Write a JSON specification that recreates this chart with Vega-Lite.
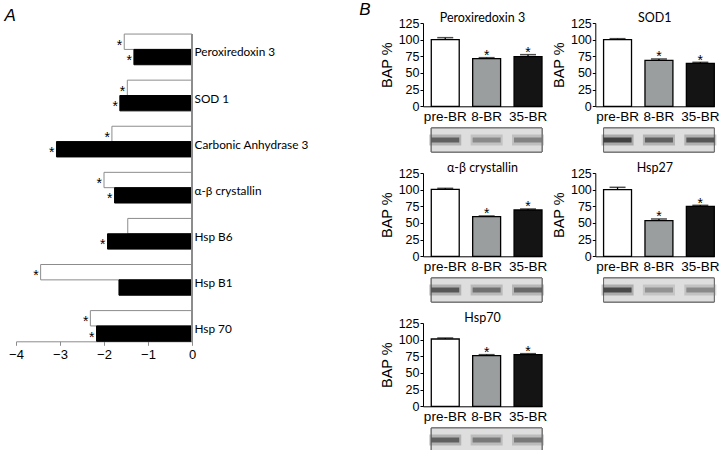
{
  "$schema": "https://vega.github.io/schema/vega-lite/v6.json",
  "padding": {"left": 4, "top": 0, "right": 0, "bottom": 0},
  "background": "white",
  "bounds": "flush",
  "spacing": 231,
  "config": {
    "view": {"stroke": null},
    "font": "Liberation Sans",
    "text": {"font": "Liberation Sans"},
    "axis": {"labelColor": "black", "titleColor": "black", "grid": false, "labelFont": "Liberation Sans", "titleFont": "Liberation Sans", "labelOverlap": false}
  },
  "datasets": {
    "fold": [
      {"protein": "Peroxiredoxin 3", "series": "8-BR", "value": -1.54, "sig": true},
      {"protein": "Peroxiredoxin 3", "series": "35-BR", "value": -1.32, "sig": true},
      {"protein": "SOD 1", "series": "8-BR", "value": -1.47, "sig": true},
      {"protein": "SOD 1", "series": "35-BR", "value": -1.64, "sig": true},
      {"protein": "Carbonic Anhydrase 3", "series": "8-BR", "value": -1.82, "sig": true},
      {"protein": "Carbonic Anhydrase 3", "series": "35-BR", "value": -3.08, "sig": true},
      {"protein": "α-β crystallin", "series": "8-BR", "value": -2.0, "sig": true},
      {"protein": "α-β crystallin", "series": "35-BR", "value": -1.76, "sig": true},
      {"protein": "Hsp B6", "series": "8-BR", "value": -1.46, "sig": false},
      {"protein": "Hsp B6", "series": "35-BR", "value": -1.92, "sig": true},
      {"protein": "Hsp B1", "series": "8-BR", "value": -3.44, "sig": true},
      {"protein": "Hsp B1", "series": "35-BR", "value": -1.66, "sig": false},
      {"protein": "Hsp 70", "series": "8-BR", "value": -2.31, "sig": true},
      {"protein": "Hsp 70", "series": "35-BR", "value": -2.17, "sig": true}
    ],
    "bap": [
      {"protein": "Peroxiredoxin 3", "group": "pre-BR", "value": 100, "hi": 103, "sig": false},
      {"protein": "Peroxiredoxin 3", "group": "8-BR", "value": 71.5, "hi": 73, "sig": true},
      {"protein": "Peroxiredoxin 3", "group": "35-BR", "value": 74.5, "hi": 77.5, "sig": true},
      {"protein": "SOD1", "group": "pre-BR", "value": 100, "hi": 101.5, "sig": false},
      {"protein": "SOD1", "group": "8-BR", "value": 69, "hi": 71, "sig": true},
      {"protein": "SOD1", "group": "35-BR", "value": 64.5, "hi": 66, "sig": true},
      {"protein": "α-β crystallin", "group": "pre-BR", "value": 100.5, "hi": 102, "sig": false},
      {"protein": "α-β crystallin", "group": "8-BR", "value": 59.5, "hi": 60.5, "sig": true},
      {"protein": "α-β crystallin", "group": "35-BR", "value": 69.5, "hi": 71, "sig": true},
      {"protein": "Hsp27", "group": "pre-BR", "value": 100, "hi": 103.5, "sig": false},
      {"protein": "Hsp27", "group": "8-BR", "value": 53.5, "hi": 56, "sig": true},
      {"protein": "Hsp27", "group": "35-BR", "value": 75, "hi": 76.5, "sig": true},
      {"protein": "Hsp70", "group": "pre-BR", "value": 101, "hi": 102.5, "sig": false},
      {"protein": "Hsp70", "group": "8-BR", "value": 76, "hi": 77.5, "sig": true},
      {"protein": "Hsp70", "group": "35-BR", "value": 77.5, "hi": 79, "sig": true}
    ],
    "blot": [
      {"protein": "Peroxiredoxin 3", "group": "pre-BR", "intensity": 0.7},
      {"protein": "Peroxiredoxin 3", "group": "8-BR", "intensity": 0.45},
      {"protein": "Peroxiredoxin 3", "group": "35-BR", "intensity": 0.5},
      {"protein": "SOD1", "group": "pre-BR", "intensity": 0.9},
      {"protein": "SOD1", "group": "8-BR", "intensity": 0.7},
      {"protein": "SOD1", "group": "35-BR", "intensity": 0.75},
      {"protein": "α-β crystallin", "group": "pre-BR", "intensity": 0.75},
      {"protein": "α-β crystallin", "group": "8-BR", "intensity": 0.6},
      {"protein": "α-β crystallin", "group": "35-BR", "intensity": 0.65},
      {"protein": "Hsp27", "group": "pre-BR", "intensity": 0.85},
      {"protein": "Hsp27", "group": "8-BR", "intensity": 0.4},
      {"protein": "Hsp27", "group": "35-BR", "intensity": 0.45},
      {"protein": "Hsp70", "group": "pre-BR", "intensity": 0.7},
      {"protein": "Hsp70", "group": "8-BR", "intensity": 0.55},
      {"protein": "Hsp70", "group": "35-BR", "intensity": 0.55}
    ]
  },
  "hconcat": [
    {
      "title": {"text": "A", "anchor": "start", "fontStyle": "italic", "fontSize": 17, "fontWeight": "normal", "font": "Liberation Sans", "offset": -2, "dx": -4},
      "width": 176,
      "height": 318.3,
      "data": {"name": "fold"},
      "encoding": {
        "y": {"field": "protein", "type": "nominal", "sort": null,
          "scale": {"paddingInner": 0.334, "paddingOuter": 0.12, "align": 1},
          "axis": {"orient": "right", "title": null, "ticks": false, "domain": false, "labelFont": "Lato", "labelFontSize": 11.8, "labelPadding": 2, "labelOffset": 3}},
        "yOffset": {"field": "series", "type": "nominal", "sort": ["8-BR", "35-BR"], "scale": {"paddingInner": 0, "paddingOuter": 0}},
        "x": {"field": "value", "type": "quantitative", "scale": {"domain": [-4, 0], "nice": false},
          "axis": {"values": [-4, -3, -2, -1, 0], "format": "d", "title": null, "domainColor": "#8c8c8c", "tickColor": "#8c8c8c", "tickSize": 4, "labelFontSize": 13, "labelPadding": 3, "labelFlush": false}}
      },
      "layer": [
        {
          "mark": {"type": "bar", "strokeWidth": 1},
          "encoding": {
            "color": {"field": "series", "type": "nominal", "scale": {"domain": ["8-BR", "35-BR"], "range": ["white", "black"]}, "legend": null},
            "stroke": {"field": "series", "type": "nominal", "scale": {"domain": ["8-BR", "35-BR"], "range": ["#8c8c8c", "black"]}, "legend": null}
          }
        },
        {
          "transform": [{"filter": "datum.sig"}],
          "mark": {"type": "text", "text": "*", "align": "right", "baseline": "alphabetic", "dx": -2, "dy": 8, "fontSize": 14, "color": "black"}
        },
        {
          "mark": {"type": "rule", "color": "#8c8c8c", "strokeWidth": 1},
          "encoding": {
            "x": {"datum": 0},
            "y": {"datum": "Peroxiredoxin 3", "type": "nominal", "bandPosition": 0},
            "y2": {"datum": "Hsp 70", "bandPosition": 1},
            "yOffset": {"value": 0}
          }
        }
      ]
    },
    {
      "title": {"text": "B", "anchor": "start", "fontStyle": "italic", "fontSize": 17, "fontWeight": "normal", "font": "Liberation Sans", "offset": -7, "dx": -20},
      "bounds": "flush",
      "columns": 2,
      "spacing": {"row": 21, "column": 53.3},
      "concat": [
        {
          "width": 119, "height": 83.3,
          "title": {"text": "Peroxiredoxin 3", "font": "Lato", "fontSize": 12.5, "fontWeight": "normal", "offset": -7},
          "data": {"name": "bap"},
          "transform": [{"filter": "datum.protein === 'Peroxiredoxin 3'"}],
          "encoding": {
            "x": {"field": "group", "type": "nominal", "sort": ["pre-BR", "8-BR", "35-BR"],
              "scale": {"paddingInner": 0.325, "paddingOuter": 0.1, "align": 1},
              "axis": {"title": null, "labelAngle": 0, "ticks": false, "domainColor": "black", "labelFontSize": 13.5, "labelPadding": 3}},
            "y": {"field": "value", "type": "quantitative", "scale": {"domain": [0, 125], "nice": false},
              "axis": {"title": "BAP %", "values": [0, 25, 50, 75, 100, 125], "format": "d", "tickCount": 10, "labelOverlap": false, "domainColor": "black", "tickColor": "black", "tickSize": 3, "labelFontSize": 12.5, "labelPadding": 1, "titleFontSize": 14.5, "titleFontWeight": "normal", "titlePadding": 4}}
          },
          "layer": [
            {"mark": {"type": "bar", "stroke": "black", "strokeWidth": 1.3},
             "encoding": {
               "color": {"field": "group", "type": "nominal", "scale": {"domain": ["pre-BR", "8-BR", "35-BR"], "range": ["white", "#9a9e9e", "#141414"]}, "legend": null}}},
            {"mark": {"type": "rule", "color": "black", "strokeWidth": 1.3},
             "encoding": {"y2": {"field": "hi"}}},
            {"mark": {"type": "tick", "orient": "horizontal", "color": "black", "thickness": 1.5, "size": 16},
             "encoding": {"y": {"field": "hi", "type": "quantitative"}}},
            {"transform": [{"filter": "datum.sig"}],
             "mark": {"type": "text", "text": "*", "fontSize": 14, "baseline": "alphabetic", "dy": 2.5, "color": "black"},
             "encoding": {"y": {"field": "hi", "type": "quantitative"}}}
          ]
        },
        {
          "width": 119, "height": 83.3,
          "title": {"text": "SOD1", "font": "Lato", "fontSize": 12.5, "fontWeight": "normal", "offset": -7},
          "data": {"name": "bap"},
          "transform": [{"filter": "datum.protein === 'SOD1'"}],
          "encoding": {
            "x": {"field": "group", "type": "nominal", "sort": ["pre-BR", "8-BR", "35-BR"],
              "scale": {"paddingInner": 0.325, "paddingOuter": 0.1, "align": 1},
              "axis": {"title": null, "labelAngle": 0, "ticks": false, "domainColor": "black", "labelFontSize": 13.5, "labelPadding": 3}},
            "y": {"field": "value", "type": "quantitative", "scale": {"domain": [0, 125], "nice": false},
              "axis": {"title": "BAP %", "values": [0, 25, 50, 75, 100, 125], "format": "d", "tickCount": 10, "labelOverlap": false, "domainColor": "black", "tickColor": "black", "tickSize": 3, "labelFontSize": 12.5, "labelPadding": 1, "titleFontSize": 14.5, "titleFontWeight": "normal", "titlePadding": 4}}
          },
          "layer": [
            {"mark": {"type": "bar", "stroke": "black", "strokeWidth": 1.3},
             "encoding": {
               "color": {"field": "group", "type": "nominal", "scale": {"domain": ["pre-BR", "8-BR", "35-BR"], "range": ["white", "#9a9e9e", "#141414"]}, "legend": null}}},
            {"mark": {"type": "rule", "color": "black", "strokeWidth": 1.3},
             "encoding": {"y2": {"field": "hi"}}},
            {"mark": {"type": "tick", "orient": "horizontal", "color": "black", "thickness": 1.5, "size": 16},
             "encoding": {"y": {"field": "hi", "type": "quantitative"}}},
            {"transform": [{"filter": "datum.sig"}],
             "mark": {"type": "text", "text": "*", "fontSize": 14, "baseline": "alphabetic", "dy": 2.5, "color": "black"},
             "encoding": {"y": {"field": "hi", "type": "quantitative"}}}
          ]
        },
        {
          "width": 119, "height": 24,
          "data": {"name": "blot"},
          "transform": [{"filter": "datum.protein === 'Peroxiredoxin 3'"}],
          "encoding": {
            "x": {"field": "group", "type": "nominal", "sort": ["pre-BR", "8-BR", "35-BR"],
              "scale": {"paddingInner": 0.325, "paddingOuter": 0.1, "align": 1}, "axis": null},
            "color": {"field": "intensity", "type": "quantitative", "scale": {"domain": [0, 1], "range": ["#dedede", "#1e1e1e"]}, "legend": null}
          },
          "layer": [
            {"mark": {"type": "rect", "fill": "#dedede", "stroke": "#6a6a6a", "strokeWidth": 1},
             "encoding": {"x": {"datum": "pre-BR", "type": "nominal", "bandPosition": 0}, "x2": {"datum": "35-BR", "bandPosition": 1}, "color": {"value": "#dedede"}}},
            {"mark": {"type": "tick", "orient": "horizontal", "thickness": 11, "size": 32, "opacity": 0.3}},
            {"mark": {"type": "tick", "orient": "horizontal", "thickness": 5, "size": 28, "opacity": 0.85}}
          ]
        },
        {
          "width": 119, "height": 24,
          "data": {"name": "blot"},
          "transform": [{"filter": "datum.protein === 'SOD1'"}],
          "encoding": {
            "x": {"field": "group", "type": "nominal", "sort": ["pre-BR", "8-BR", "35-BR"],
              "scale": {"paddingInner": 0.325, "paddingOuter": 0.1, "align": 1}, "axis": null},
            "color": {"field": "intensity", "type": "quantitative", "scale": {"domain": [0, 1], "range": ["#dedede", "#1e1e1e"]}, "legend": null}
          },
          "layer": [
            {"mark": {"type": "rect", "fill": "#dedede", "stroke": "#6a6a6a", "strokeWidth": 1},
             "encoding": {"x": {"datum": "pre-BR", "type": "nominal", "bandPosition": 0}, "x2": {"datum": "35-BR", "bandPosition": 1}, "color": {"value": "#dedede"}}},
            {"mark": {"type": "tick", "orient": "horizontal", "thickness": 11, "size": 32, "opacity": 0.3}},
            {"mark": {"type": "tick", "orient": "horizontal", "thickness": 5, "size": 28, "opacity": 0.85}}
          ]
        },
        {
          "width": 119, "height": 83.3,
          "title": {"text": "α-β crystallin", "font": "Lato", "fontSize": 12.5, "fontWeight": "normal", "offset": -7},
          "data": {"name": "bap"},
          "transform": [{"filter": "datum.protein === 'α-β crystallin'"}],
          "encoding": {
            "x": {"field": "group", "type": "nominal", "sort": ["pre-BR", "8-BR", "35-BR"],
              "scale": {"paddingInner": 0.325, "paddingOuter": 0.1, "align": 1},
              "axis": {"title": null, "labelAngle": 0, "ticks": false, "domainColor": "black", "labelFontSize": 13.5, "labelPadding": 3}},
            "y": {"field": "value", "type": "quantitative", "scale": {"domain": [0, 125], "nice": false},
              "axis": {"title": "BAP %", "values": [0, 25, 50, 75, 100, 125], "format": "d", "tickCount": 10, "labelOverlap": false, "domainColor": "black", "tickColor": "black", "tickSize": 3, "labelFontSize": 12.5, "labelPadding": 1, "titleFontSize": 14.5, "titleFontWeight": "normal", "titlePadding": 4}}
          },
          "layer": [
            {"mark": {"type": "bar", "stroke": "black", "strokeWidth": 1.3},
             "encoding": {
               "color": {"field": "group", "type": "nominal", "scale": {"domain": ["pre-BR", "8-BR", "35-BR"], "range": ["white", "#9a9e9e", "#141414"]}, "legend": null}}},
            {"mark": {"type": "rule", "color": "black", "strokeWidth": 1.3},
             "encoding": {"y2": {"field": "hi"}}},
            {"mark": {"type": "tick", "orient": "horizontal", "color": "black", "thickness": 1.5, "size": 16},
             "encoding": {"y": {"field": "hi", "type": "quantitative"}}},
            {"transform": [{"filter": "datum.sig"}],
             "mark": {"type": "text", "text": "*", "fontSize": 14, "baseline": "alphabetic", "dy": 2.5, "color": "black"},
             "encoding": {"y": {"field": "hi", "type": "quantitative"}}}
          ]
        },
        {
          "width": 119, "height": 83.3,
          "title": {"text": "Hsp27", "font": "Lato", "fontSize": 12.5, "fontWeight": "normal", "offset": -7},
          "data": {"name": "bap"},
          "transform": [{"filter": "datum.protein === 'Hsp27'"}],
          "encoding": {
            "x": {"field": "group", "type": "nominal", "sort": ["pre-BR", "8-BR", "35-BR"],
              "scale": {"paddingInner": 0.325, "paddingOuter": 0.1, "align": 1},
              "axis": {"title": null, "labelAngle": 0, "ticks": false, "domainColor": "black", "labelFontSize": 13.5, "labelPadding": 3}},
            "y": {"field": "value", "type": "quantitative", "scale": {"domain": [0, 125], "nice": false},
              "axis": {"title": "BAP %", "values": [0, 25, 50, 75, 100, 125], "format": "d", "tickCount": 10, "labelOverlap": false, "domainColor": "black", "tickColor": "black", "tickSize": 3, "labelFontSize": 12.5, "labelPadding": 1, "titleFontSize": 14.5, "titleFontWeight": "normal", "titlePadding": 4}}
          },
          "layer": [
            {"mark": {"type": "bar", "stroke": "black", "strokeWidth": 1.3},
             "encoding": {
               "color": {"field": "group", "type": "nominal", "scale": {"domain": ["pre-BR", "8-BR", "35-BR"], "range": ["white", "#9a9e9e", "#141414"]}, "legend": null}}},
            {"mark": {"type": "rule", "color": "black", "strokeWidth": 1.3},
             "encoding": {"y2": {"field": "hi"}}},
            {"mark": {"type": "tick", "orient": "horizontal", "color": "black", "thickness": 1.5, "size": 16},
             "encoding": {"y": {"field": "hi", "type": "quantitative"}}},
            {"transform": [{"filter": "datum.sig"}],
             "mark": {"type": "text", "text": "*", "fontSize": 14, "baseline": "alphabetic", "dy": 2.5, "color": "black"},
             "encoding": {"y": {"field": "hi", "type": "quantitative"}}}
          ]
        },
        {
          "width": 119, "height": 24,
          "data": {"name": "blot"},
          "transform": [{"filter": "datum.protein === 'α-β crystallin'"}],
          "encoding": {
            "x": {"field": "group", "type": "nominal", "sort": ["pre-BR", "8-BR", "35-BR"],
              "scale": {"paddingInner": 0.325, "paddingOuter": 0.1, "align": 1}, "axis": null},
            "color": {"field": "intensity", "type": "quantitative", "scale": {"domain": [0, 1], "range": ["#dedede", "#1e1e1e"]}, "legend": null}
          },
          "layer": [
            {"mark": {"type": "rect", "fill": "#dedede", "stroke": "#6a6a6a", "strokeWidth": 1},
             "encoding": {"x": {"datum": "pre-BR", "type": "nominal", "bandPosition": 0}, "x2": {"datum": "35-BR", "bandPosition": 1}, "color": {"value": "#dedede"}}},
            {"mark": {"type": "tick", "orient": "horizontal", "thickness": 11, "size": 32, "opacity": 0.3}},
            {"mark": {"type": "tick", "orient": "horizontal", "thickness": 5, "size": 28, "opacity": 0.85}}
          ]
        },
        {
          "width": 119, "height": 24,
          "data": {"name": "blot"},
          "transform": [{"filter": "datum.protein === 'Hsp27'"}],
          "encoding": {
            "x": {"field": "group", "type": "nominal", "sort": ["pre-BR", "8-BR", "35-BR"],
              "scale": {"paddingInner": 0.325, "paddingOuter": 0.1, "align": 1}, "axis": null},
            "color": {"field": "intensity", "type": "quantitative", "scale": {"domain": [0, 1], "range": ["#dedede", "#1e1e1e"]}, "legend": null}
          },
          "layer": [
            {"mark": {"type": "rect", "fill": "#dedede", "stroke": "#6a6a6a", "strokeWidth": 1},
             "encoding": {"x": {"datum": "pre-BR", "type": "nominal", "bandPosition": 0}, "x2": {"datum": "35-BR", "bandPosition": 1}, "color": {"value": "#dedede"}}},
            {"mark": {"type": "tick", "orient": "horizontal", "thickness": 11, "size": 32, "opacity": 0.3}},
            {"mark": {"type": "tick", "orient": "horizontal", "thickness": 5, "size": 28, "opacity": 0.85}}
          ]
        },
        {
          "width": 119, "height": 83.3,
          "title": {"text": "Hsp70", "font": "Lato", "fontSize": 12.5, "fontWeight": "normal", "offset": -7},
          "data": {"name": "bap"},
          "transform": [{"filter": "datum.protein === 'Hsp70'"}],
          "encoding": {
            "x": {"field": "group", "type": "nominal", "sort": ["pre-BR", "8-BR", "35-BR"],
              "scale": {"paddingInner": 0.325, "paddingOuter": 0.1, "align": 1},
              "axis": {"title": null, "labelAngle": 0, "ticks": false, "domainColor": "black", "labelFontSize": 13.5, "labelPadding": 3}},
            "y": {"field": "value", "type": "quantitative", "scale": {"domain": [0, 125], "nice": false},
              "axis": {"title": "BAP %", "values": [0, 25, 50, 75, 100, 125], "format": "d", "tickCount": 10, "labelOverlap": false, "domainColor": "black", "tickColor": "black", "tickSize": 3, "labelFontSize": 12.5, "labelPadding": 1, "titleFontSize": 14.5, "titleFontWeight": "normal", "titlePadding": 4}}
          },
          "layer": [
            {"mark": {"type": "bar", "stroke": "black", "strokeWidth": 1.3},
             "encoding": {
               "color": {"field": "group", "type": "nominal", "scale": {"domain": ["pre-BR", "8-BR", "35-BR"], "range": ["white", "#9a9e9e", "#141414"]}, "legend": null}}},
            {"mark": {"type": "rule", "color": "black", "strokeWidth": 1.3},
             "encoding": {"y2": {"field": "hi"}}},
            {"mark": {"type": "tick", "orient": "horizontal", "color": "black", "thickness": 1.5, "size": 16},
             "encoding": {"y": {"field": "hi", "type": "quantitative"}}},
            {"transform": [{"filter": "datum.sig"}],
             "mark": {"type": "text", "text": "*", "fontSize": 14, "baseline": "alphabetic", "dy": 2.5, "color": "black"},
             "encoding": {"y": {"field": "hi", "type": "quantitative"}}}
          ]
        },
        {
          "width": 119, "height": 83.3,
          "data": {"values": [{"blank": ""}]},
          "mark": {"type": "text", "opacity": 0},
          "encoding": {"text": {"field": "blank"}}
        },
        {
          "width": 119, "height": 24,
          "data": {"name": "blot"},
          "transform": [{"filter": "datum.protein === 'Hsp70'"}],
          "encoding": {
            "x": {"field": "group", "type": "nominal", "sort": ["pre-BR", "8-BR", "35-BR"],
              "scale": {"paddingInner": 0.325, "paddingOuter": 0.1, "align": 1}, "axis": null},
            "color": {"field": "intensity", "type": "quantitative", "scale": {"domain": [0, 1], "range": ["#dedede", "#1e1e1e"]}, "legend": null}
          },
          "layer": [
            {"mark": {"type": "rect", "fill": "#dedede", "stroke": "#6a6a6a", "strokeWidth": 1},
             "encoding": {"x": {"datum": "pre-BR", "type": "nominal", "bandPosition": 0}, "x2": {"datum": "35-BR", "bandPosition": 1}, "color": {"value": "#dedede"}}},
            {"mark": {"type": "tick", "orient": "horizontal", "thickness": 11, "size": 32, "opacity": 0.3}},
            {"mark": {"type": "tick", "orient": "horizontal", "thickness": 5, "size": 28, "opacity": 0.85}}
          ]
        }
      ]
    }
  ]
}
